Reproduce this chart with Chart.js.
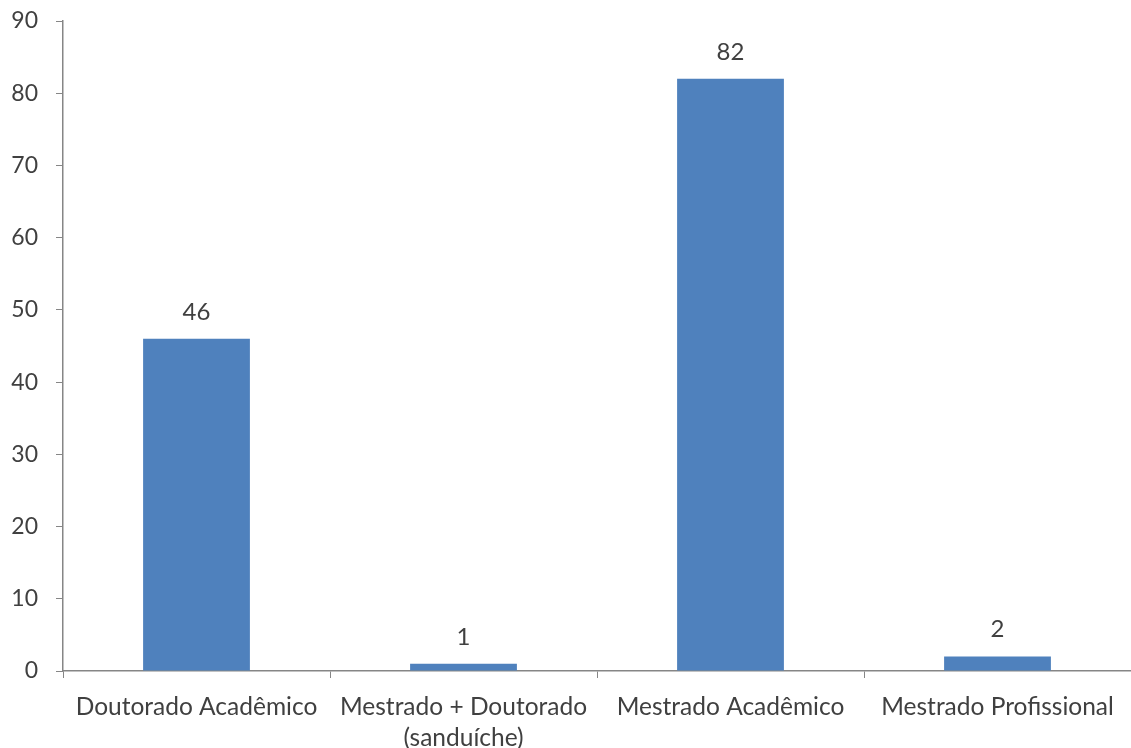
<!DOCTYPE html>
<html>
<head>
<meta charset="utf-8">
<script src="https://cdn.jsdelivr.net/npm/chart.js@4/dist/chart.umd.min.js"></script>
<style>
  html, body { margin: 0; padding: 0; background: #fff; }
  #wrap { width: 1131px; height: 748px; }
</style>
</head>
<body>
<div id="wrap"><canvas id="canvas"></canvas></div>
<script>
"use strict"

const categorias = ['Doutorado Acadêmico', ['Mestrado + Doutorado', '(sanduíche)'], 'Mestrado Acadêmico', 'Mestrado Profissional'];
const valores = [46, 1, 82, 2];
const yMin = 0;
const yMax = 90;
const yPasso = 10;

const corTexto = '#404040';
const corEixo = '#868686';
const fonte = "Lato, 'Open Sans', sans-serif";

// rotulos de valor acima das barras
const rotulosBarras = {
    id: 'rotulosBarras',
    afterDatasetsDraw(chart) {
        const ctx = chart.ctx;
        ctx.save();
        ctx.font = '24px ' + fonte;
        ctx.fillStyle = corTexto;
        ctx.textAlign = 'center';
        ctx.textBaseline = 'middle';
        chart.getDatasetMeta(0).data.forEach((bar, i) => {
            ctx.fillText(valores[i], bar.x, bar.y - 27);
        });
        ctx.restore();
    }
};

let ctx = document.getElementById('canvas').getContext('2d');
let myChart = new Chart(ctx, {
    type: 'bar',
    data: {
        labels: categorias,
        datasets: [{
            data: valores,
            backgroundColor: '#4F81BD',
            borderWidth: 0,
            barPercentage: 0.4,
            categoryPercentage: 1
        }]
    },
    options: {
        responsive: true,
        maintainAspectRatio: false,
        animation: false,
        layout: { autoPadding: false, padding: { top: 21, right: -6, left: 0, bottom: 0 } },
        plugins: {
            legend: { display: false },
            tooltip: { enabled: false }
        },
        scales: {
            x: {
                grid: { drawOnChartArea: false, drawTicks: true, tickLength: 7, color: corEixo, offset: true },
                border: { color: corEixo, width: 1.5 },
                ticks: {
                    color: corTexto,
                    font: { family: fonte, size: 24.5, lineHeight: 1.25 },
                    padding: 14,
                    maxRotation: 0,
                    autoSkip: false
                },
                afterFit(scale) { scale.height = 77; }
            },
            y: {
                min: yMin,
                max: yMax,
                grid: { drawOnChartArea: false, drawTicks: true, tickLength: 7, color: corEixo },
                border: { color: corEixo, width: 1.5 },
                ticks: {
                    stepSize: yPasso,
                    color: corTexto,
                    font: { family: fonte, size: 23 },
                    padding: 18
                },
                afterFit(scale) {
                    scale.width = 63;
                    scale.paddingTop = 0;
                    scale.paddingBottom = 0;
                }
            }
        }
    },
    plugins: [rotulosBarras]
});
</script>
</body>
</html>
